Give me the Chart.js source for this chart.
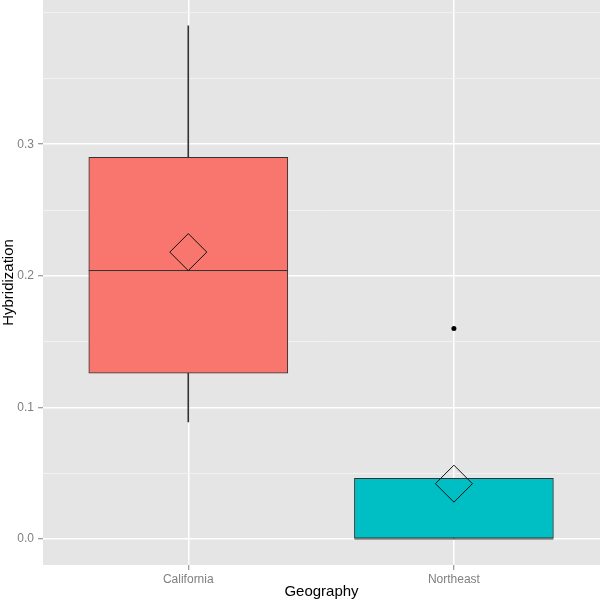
<!DOCTYPE html>
<html lang="en">
<head>
  <meta charset="UTF-8" />
  <title>Hybridization by geography</title>
  <style>
    html, body { margin: 0; padding: 0; background: #fff; }
    #wrap { width: 600px; height: 601px; position: relative; }
  </style>
  <script src="https://cdn.jsdelivr.net/npm/chart.js"></script>
</head>
<body>
  <div id="wrap"><canvas id="boxChart"></canvas></div>

  <script>
    // box plot summary per category
    const categories = ["California", "Northeast"];
    const whiskerLow = [0.089, 0.0];
    const q1 = [0.126, 0.0];
    const median = [0.204, 0.0];
    const q3 = [0.290, 0.046];
    const whiskerHigh = [0.390, 0.046];
    const means = [0.218, 0.042];
    const outlierCat = [1];
    const outlierValue = [0.160];

    // y axis
    const yTickValues = [0.0, 0.1, 0.2, 0.3];
    const yTickLabels = ["0.0", "0.1", "0.2", "0.3"];
    const yGridValues = [0.0, 0.05, 0.1, 0.15, 0.2, 0.25, 0.3, 0.35, 0.4];

    const boxColors = ["#F8766D", "#00BFC4"];
    const font = "'Liberation Sans', Arial, sans-serif";

    function isMajor(v) {
      return yTickValues.some(t => Math.abs(t - v) < 1e-9);
    }

    // grey panel behind the plot
    const panelBg = {
      id: "panelBg",
      beforeDraw(chart) {
        const { ctx, chartArea: a } = chart;
        ctx.save();
        ctx.fillStyle = "#E5E5E5";
        ctx.fillRect(a.left, a.top, a.right - a.left, a.bottom - a.top);
        ctx.restore();
      }
    };

    new Chart(document.getElementById("boxChart"), {
      type: "bar",
      data: {
        datasets: [
          {
            // whiskers
            label: "whisker",
            data: categories.map((c, i) => ({ x: i, y: [whiskerLow[i], whiskerHigh[i]] })),
            backgroundColor: "#333333",
            borderWidth: 0,
            barThickness: 1,
            grouped: false,
            order: 3
          },
          {
            // boxes
            label: "box",
            data: categories.map((c, i) => ({ x: i, y: [q1[i], q3[i]] })),
            backgroundColor: boxColors,
            borderColor: "#333333",
            borderWidth: 1,
            borderSkipped: false,
            barThickness: 199,
            grouped: false,
            order: 2
          },
          {
            // median line
            type: "scatter",
            label: "median",
            data: categories.map((c, i) => ({ x: i, y: median[i] })),
            pointStyle: "line",
            pointRadius: 99.5,
            borderColor: "#333333",
            borderWidth: 1,
            order: 1
          },
          {
            // mean diamond
            type: "scatter",
            label: "mean",
            data: categories.map((c, i) => ({ x: i, y: means[i] })),
            pointStyle: "rectRot",
            pointRadius: 18.5,
            backgroundColor: "rgba(0,0,0,0)",
            borderColor: "#111111",
            borderWidth: 1,
            order: 0
          },
          {
            // outliers
            type: "scatter",
            label: "outlier",
            data: outlierCat.map((c, i) => ({ x: c, y: outlierValue[i] })),
            pointStyle: "circle",
            pointRadius: 2.5,
            backgroundColor: "#000000",
            borderWidth: 0,
            order: 0
          }
        ]
      },
      options: {
        responsive: true,
        maintainAspectRatio: false,
        animation: false,
        layout: { padding: 0, autoPadding: false },
        plugins: {
          legend: { display: false },
          tooltip: { enabled: false }
        },
        scales: {
          x: {
            type: "linear",
            min: -0.547,
            max: 1.55,
            offset: false,
            afterBuildTicks: s => { s.ticks = categories.map((c, i) => ({ value: i })); },
            afterFit: s => { s.height = 36; s.paddingLeft = 0; s.paddingRight = 0; },
            ticks: {
              callback: v => categories[Math.round(v)],
              color: "#7F7F7F",
              font: { family: font, size: 12 },
              padding: 2,
              maxRotation: 0
            },
            grid: {
              offset: false,
              color: "#FFFFFF",
              lineWidth: 1.5,
              tickLength: 5,
              tickColor: "#7F7F7F",
              tickWidth: 1
            },
            border: { display: false },
            title: {
              display: true,
              text: "Geography",
              color: "#000000",
              font: { family: font, size: 15 },
              padding: { top: 0, bottom: 0 }
            }
          },
          y: {
            type: "linear",
            min: -0.0198,
            max: 0.4096,
            afterBuildTicks: s => { s.ticks = yGridValues.map(v => ({ value: v })); },
            afterFit: s => { s.width = 43; s.paddingTop = 0; s.paddingBottom = 0; },
            ticks: {
              callback: v => {
                const k = yTickValues.findIndex(t => Math.abs(t - v) < 1e-9);
                return k >= 0 ? yTickLabels[k] : [];
              },
              color: "#7F7F7F",
              font: { family: font, size: 12 },
              padding: 4
            },
            grid: {
              color: ctx => isMajor(ctx.tick.value) ? "#FFFFFF" : "#F2F2F2",
              lineWidth: ctx => isMajor(ctx.tick.value) ? 1.5 : 1,
              tickLength: 5,
              tickColor: ctx => isMajor(ctx.tick.value) ? "#7F7F7F" : "rgba(0,0,0,0)",
              tickWidth: 1
            },
            border: { display: false },
            title: {
              display: true,
              text: "Hybridization",
              color: "#000000",
              font: { family: font, size: 15 },
              padding: { top: 0, bottom: 0 }
            }
          }
        }
      },
      plugins: [panelBg]
    });
  </script>
</body>
</html>
